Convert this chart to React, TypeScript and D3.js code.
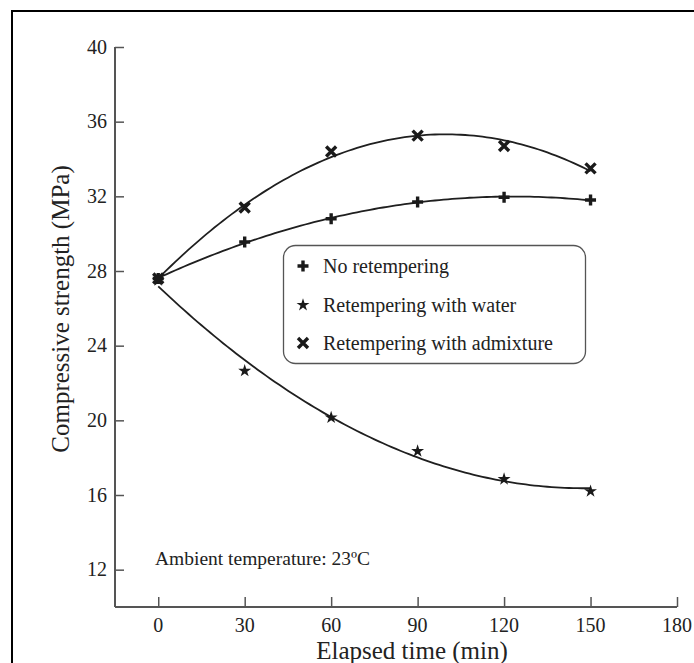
import React, { useEffect, useRef } from 'react';
import * as d3 from 'd3';

const times = [0, 30, 60, 90, 120, 150];
const noRetempering = [27.6, 29.55, 30.8, 31.7, 31.95, 31.8];
const withWater = [27.5, 22.65, 20.15, 18.35, 16.85, 16.2];
const withAdmixture = [27.6, 31.4, 34.4, 35.25, 34.7, 33.5];
const seriesNames = ['No retempering', 'Retempering with water', 'Retempering with admixture'];
const xTicks = [0, 30, 60, 90, 120, 150, 180];
const yTicks = [12, 16, 20, 24, 28, 32, 36, 40];

const W = 694;
const H = 663;
const FONT = "'Liberation Serif', 'Times New Roman', serif";

// least squares quadratic, like the fit curves in the original
function quadFit(xs: number[], ys: number[]) {
  const S = [0, 0, 0, 0, 0];
  const T = [0, 0, 0];
  xs.forEach((x, i) => {
    for (let k = 0; k < 5; k++) S[k] += Math.pow(x, k);
    for (let k = 0; k < 3; k++) T[k] += Math.pow(x, k) * ys[i];
  });
  const A = [
    [S[0], S[1], S[2], T[0]],
    [S[1], S[2], S[3], T[1]],
    [S[2], S[3], S[4], T[2]],
  ];
  for (let c = 0; c < 3; c++) {
    for (let r = c + 1; r < 3; r++) {
      const f = A[r][c] / A[c][c];
      for (let k = c; k < 4; k++) A[r][k] -= f * A[c][k];
    }
  }
  const b = [0, 0, 0];
  for (let r = 2; r >= 0; r--) {
    let s = A[r][3];
    for (let k = r + 1; k < 3; k++) s -= A[r][k] * b[k];
    b[r] = s / A[r][r];
  }
  return (x: number) => b[0] + b[1] * x + b[2] * x * x;
}

function drawMarker(g: any, kind: number, x: number, y: number) {
  if (kind === 0) {
    g.append('path')
      .attr('d', `M${x - 5.5},${y}H${x + 5.5}M${x},${y - 5.5}V${y + 5.5}`)
      .attr('stroke', '#1a1a1a').attr('stroke-width', 3.4);
  } else if (kind === 1) {
    g.append('path')
      .attr('d', d3.symbol().type(d3.symbolStar).size(52)())
      .attr('transform', `translate(${x},${y})`)
      .attr('fill', '#1a1a1a');
  } else {
    g.append('path')
      .attr('d', `M${x - 5},${y - 5}L${x + 5},${y + 5}M${x - 5},${y + 5}L${x + 5},${y - 5}`)
      .attr('stroke', '#1a1a1a').attr('stroke-width', 3.4);
  }
}

export default function App() {
  const ref = useRef<SVGSVGElement>(null);

  useEffect(() => {
    const svg = d3.select(ref.current);
    svg.selectAll('*').remove();

    const x = d3.scaleLinear().domain([-15, 180]).range([115, 677]);
    const y = d3.scaleLinear().domain([10, 40]).range([607, 47]);

    // frame around the figure
    svg.append('rect')
      .attr('x', 12).attr('y', 11).attr('width', W + 20).attr('height', H + 20)
      .attr('fill', 'none').attr('stroke', '#000').attr('stroke-width', 2);

    const axisColor = '#555';

    // x axis, ticks pointing inward
    const gx = svg.append('g').attr('transform', `translate(0,${y(10)})`);
    gx.call(d3.axisTop(x).tickValues(d3.range(-15, 181, 15).filter(v => v % 30 !== 0)).tickSize(5).tickFormat(() => ''));
    gx.call(d3.axisTop(x).tickValues(xTicks).tickSize(10).tickFormat(() => ''));
    gx.selectAll('.domain').remove();
    gx.append('line').attr('x1', x(-15)).attr('x2', x(180)).attr('stroke', axisColor).attr('stroke-width', 2);
    gx.selectAll('.tick line').attr('stroke', axisColor).attr('stroke-width', 1.5);
    gx.selectAll('.tick-label').data(xTicks).enter().append('text')
      .attr('x', d => x(d)).attr('y', 25)
      .attr('text-anchor', 'middle')
      .style('font-family', FONT).style('font-size', '20px').attr('fill', '#222')
      .text(d => d);

    // y axis
    const gy = svg.append('g').attr('transform', `translate(${x(-15)},0)`);
    gy.call(d3.axisRight(y).tickValues(d3.range(14, 39, 4)).tickSize(5).tickFormat(() => ''));
    gy.call(d3.axisRight(y).tickValues(yTicks).tickSize(9).tickFormat(() => ''));
    gy.selectAll('.domain').remove();
    gy.append('line').attr('y1', y(10)).attr('y2', y(40)).attr('stroke', axisColor).attr('stroke-width', 2);
    gy.selectAll('.tick line').attr('stroke', axisColor).attr('stroke-width', 1.5);
    gy.selectAll('.tick-label').data(yTicks).enter().append('text')
      .attr('x', -8).attr('y', d => y(d)).attr('dy', '0.33em')
      .attr('text-anchor', 'end')
      .style('font-family', FONT).style('font-size', '20px').attr('fill', '#222')
      .text(d => d);

    // axis titles
    svg.append('text')
      .attr('transform', `translate(69,309) rotate(-90)`)
      .attr('text-anchor', 'middle')
      .style('font-family', FONT).style('font-size', '25px').attr('fill', '#222')
      .text('Compressive strength (MPa)');
    svg.append('text')
      .attr('x', 412).attr('y', 659)
      .attr('text-anchor', 'middle')
      .style('font-family', FONT).style('font-size', '25px').attr('fill', '#222')
      .text('Elapsed time (min)');

    // fitted curves and markers
    const all = [noRetempering, withWater, withAdmixture];
    all.forEach(vals => {
      const f = quadFit(times, vals);
      const xs = d3.range(0, 150.01, 1.5);
      const line = d3.line<number>().x(d => x(d)).y(d => y(f(d)));
      svg.append('path')
        .attr('d', line(xs))
        .attr('fill', 'none').attr('stroke', '#1f1f1f').attr('stroke-width', 1.8);
    });
    const gm = svg.append('g');
    all.forEach((vals, i) => {
      vals.forEach((v, j) => drawMarker(gm, i, x(times[j]), y(v)));
    });

    // legend
    const lg = svg.append('g');
    lg.append('rect')
      .attr('x', 283.5).attr('y', 245.5).attr('width', 302).attr('height', 118).attr('rx', 12)
      .attr('fill', '#fff').attr('stroke', '#555').attr('stroke-width', 1.3);
    const rows = [266, 305, 343];
    seriesNames.forEach((name, i) => {
      drawMarker(lg, i, 303, rows[i]);
      lg.append('text')
        .attr('x', 323).attr('y', rows[i]).attr('dy', '0.33em')
        .style('font-family', FONT).style('font-size', '20px').attr('fill', '#222')
        .text(name);
    });

    svg.append('text')
      .attr('x', 155).attr('y', 565)
      .style('font-family', FONT).style('font-size', '19.5px').attr('fill', '#222')
      .text('Ambient temperature: 23ºC');
  }, []);

  return (
    <svg ref={ref} width={W} height={H}
      style={{ position: 'absolute', left: 0, top: 0, background: '#fff' }} />
  );
}
